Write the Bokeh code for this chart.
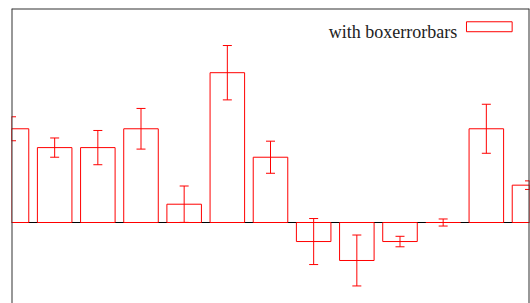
from bokeh.plotting import figure
from bokeh.models import Span, Whisker, ColumnDataSource, Label, BoxAnnotation, TeeHead, Range1d
from bokeh.embed import file_html
from bokeh.resources import INLINE

# Data
xs = [1, 2, 3, 4, 5, 6, 7, 8, 9, 10, 11, 12, 13]
values = [0.876, 0.70, 0.70, 0.876, 0.171, 1.40, 0.61, -0.178, -0.355, -0.178, 0.0, 0.876, 0.349]
errors = [0.112, 0.09, 0.16, 0.19, 0.17, 0.254, 0.15, 0.215, 0.238, 0.049, 0.033, 0.229, 0.04]
legend_label = "with boxerrorbars"

lower = [v - e for v, e in zip(values, errors)]
upper = [v + e for v, e in zip(values, errors)]
src = ColumnDataSource(dict(x=xs, top=values, lower=lower, upper=upper))

p = figure(width=530, height=303, output_backend="svg", toolbar_location=None,
           x_axis_type=None, y_axis_type=None,
           x_range=Range1d(1, 13), y_range=Range1d(-0.757, 2.0),
           min_border_left=11, min_border_right=1, min_border_top=8, min_border_bottom=0)
p.outline_line_color = None
p.grid.visible = False

# zero axis
p.add_layout(Span(location=0, dimension="width", line_color="black", line_width=1, level="underlay"))

p.vbar(x="x", top="top", bottom=0, width=0.8, source=src, fill_color=None,
       line_color="red", line_width=1)

w = Whisker(base="x", upper="upper", lower="lower", source=src, line_color="red", line_width=1,
            upper_head=TeeHead(size=9, line_color="red", line_width=1),
            lower_head=TeeHead(size=9, line_color="red", line_width=1))
p.add_layout(w)

# border (left, top, right)
for loc, dim in [(1, "height"), (13, "height"), (2.0, "width")]:
    p.add_layout(Span(location=loc, dimension=dim, line_color="#333333", line_width=2))

# legend (gnuplot style: text then sample box)
p.add_layout(Label(x=11.324, y=1.776, text=legend_label, text_align="right",
                   text_baseline="alphabetic", text_font="Liberation Serif",
                   text_font_size="18px", text_color="#222222"))
p.add_layout(BoxAnnotation(left=11.54, right=12.598, bottom=1.783, top=1.876,
                           fill_alpha=0, line_color="red", line_width=1, line_alpha=1))

open("out.html", "w").write(file_html(p, INLINE))
